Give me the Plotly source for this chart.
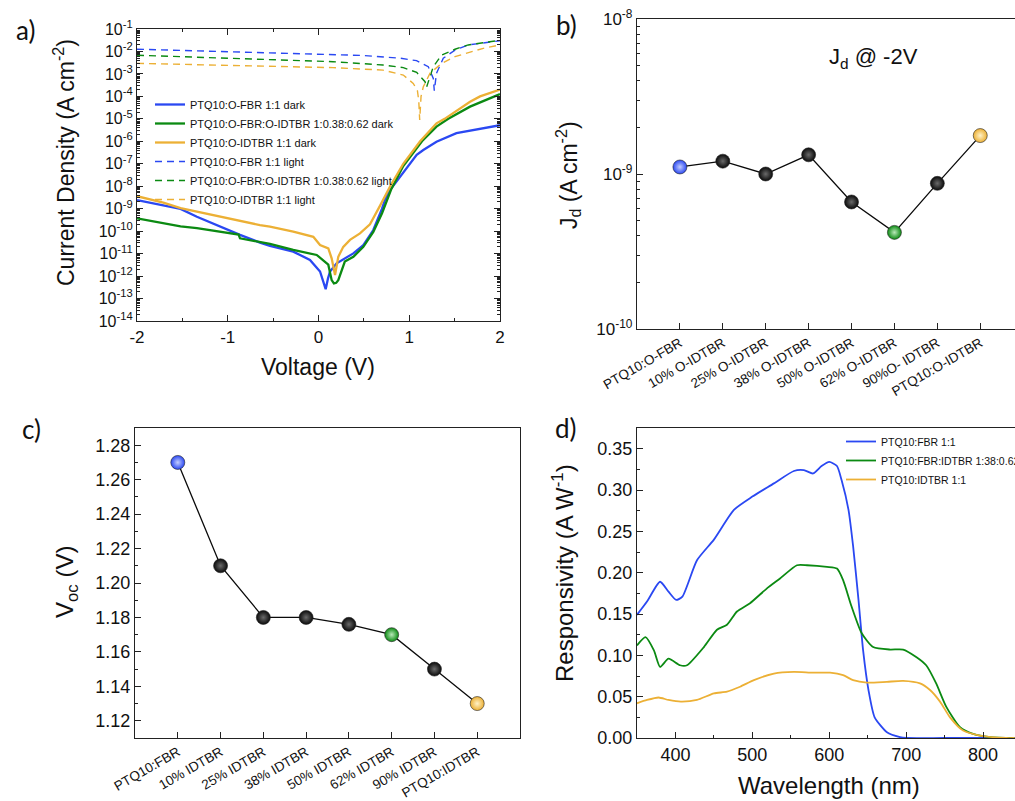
import plotly.graph_objects as go

# ---------------- data: panel a (J-V) ----------------
blue_dark_v = [-2.0, -1.71, -1.52, -1.34, -0.975, -0.865, -0.645, -0.535, -0.278, -0.094, 0.017, 0.05,
               0.079, 0.105, 0.127, 0.2, 0.3, 0.384, 0.494, 0.604, 0.7, 0.733, 0.788, 0.898, 1.008,
               1.082, 1.155, 1.3, 1.52, 1.74, 2.0]
blue_dark_j = [2.4e-9, 1.45e-9, 9.8e-10, 4.4e-10, 1.0e-10, 6.8e-11, 3.1e-11, 2.2e-11, 1.23e-11, 5.2e-12,
               1.6e-12, 6.3e-13, 2.6e-13, 7.9e-13, 1.6e-12, 3.7e-12, 6.3e-12, 1.02e-11, 2.4e-11, 1.12e-10,
               1.0e-9, 2.5e-9, 6.8e-9, 2.6e-8, 1.05e-7, 2.5e-7, 4.1e-7, 9.5e-7, 2.3e-6, 3.4e-6, 5.2e-6]

green_dark_v = [-2.0, -1.71, -1.52, -1.34, -0.975, -0.88, -0.865, -0.645, -0.535, -0.278, -0.02, 0.108,
                0.145, 0.17, 0.195, 0.218, 0.29, 0.384, 0.494, 0.604, 0.70, 0.80, 0.934, 1.14, 1.30,
                1.43, 1.67, 1.94, 2.0]
green_dark_j = [3.7e-10, 2.24e-10, 1.62e-10, 1.35e-10, 7.9e-11, 7.1e-11, 4.8e-11, 3.3e-11, 2.7e-11,
                1.48e-11, 8.7e-12, 3.2e-12, 6.6e-13, 4.7e-13, 5.0e-13, 6.6e-13, 4.4e-12, 7.2e-12, 2.0e-11,
                9.3e-11, 6.3e-10, 7.1e-9, 7.9e-8, 1.0e-6, 4.5e-6, 1.0e-5, 3.5e-5, 1.0e-4, 1.26e-4]

orange_dark_v = [-2.0, -1.71, -1.52, -1.34, -0.975, -0.645, -0.535, -0.278, -0.057, 0.017, 0.108, 0.145,
                 0.182, 0.218, 0.273, 0.347, 0.457, 0.567, 0.68, 0.79, 0.934, 1.12, 1.30, 1.39, 1.67,
                 1.78, 2.0]
orange_dark_j = [3.6e-9, 1.86e-9, 1.07e-9, 7.4e-10, 3.7e-10, 1.86e-10, 1.58e-10, 9.5e-11, 5.6e-11, 2.4e-11,
                 1.7e-11, 6.2e-12, 1.12e-12, 7.2e-12, 2.0e-11, 4.1e-11, 7.9e-11, 2.0e-10, 1.41e-9, 1.0e-8,
                 1.0e-7, 1.0e-6, 6.3e-6, 1.0e-5, 5.8e-5, 1.0e-4, 2.0e-4]

blue_light_v = [-2.0, -1.0, 0.0, 0.5, 0.9, 1.08, 1.21, 1.265, 1.276, 1.30, 1.375, 1.504, 1.65, 1.816, 2.0]
blue_light_j = [1.26e-2, 1.0e-2, 7.9e-3, 6.6e-3, 5.0e-3, 3.9e-3, 2.1e-3, 6.3e-4, 1.78e-4, 1.07e-3, 5.0e-3,
                1.15e-2, 1.95e-2, 2.45e-2, 3.0e-2]

green_light_v = [-2.0, -0.94, 0.16, 0.71, 0.934, 1.082, 1.174, 1.19, 1.22, 1.265, 1.357, 1.504, 1.65, 1.816, 2.0]
green_light_j = [6.8e-3, 5.0e-3, 3.5e-3, 2.5e-3, 1.9e-3, 1.17e-3, 4.5e-4, 2.5e-4, 5.4e-4, 2.1e-3, 6.9e-3,
                 1.26e-2, 1.95e-2, 2.5e-2, 3.16e-2]

orange_light_v = [-2.0, -0.94, 0.16, 0.71, 0.934, 1.044, 1.09, 1.105, 1.115, 1.13, 1.155, 1.229, 1.357,
                  1.504, 1.65, 1.816, 2.0]
orange_light_j = [2.95e-3, 2.34e-3, 1.9e-3, 1.48e-3, 8.9e-4, 3.8e-4, 1.78e-4, 6.3e-5, 8.9e-6, 1.0e-4,
                  2.7e-4, 1.07e-3, 2.95e-3, 5.9e-3, 9.1e-3, 1.38e-2, 1.95e-2]

# ---------------- data: panels b, c ----------------
cats_b = ["PTQ10:O-FBR", "10% O-IDTBR", "25% O-IDTBR", "38% O-IDTBR", "50% O-IDTBR",
          "62% O-IDTBR", "90%O- IDTBR", "PTQ10:O-IDTBR"]
jd_values = [1.11e-9, 1.21e-9, 1.0e-9, 1.33e-9, 6.6e-10, 4.2e-10, 8.7e-10, 1.77e-9]

cats_c = ["PTQ10:FBR", "10% IDTBR", "25% IDTBR", "38% IDTBR", "50% IDTBR",
          "62% IDTBR", "90% IDTBR", "PTQ10:IDTBR"]
voc_values = [1.27, 1.21, 1.18, 1.18, 1.176, 1.17, 1.15, 1.13]

# ---------------- data: panel d (responsivity) ----------------
wl_blue = [350, 363, 380, 391, 401, 409, 428, 450, 476, 500, 528, 554, 567, 579, 590, 600, 610, 616,
           625, 631, 638, 644, 651, 659, 675, 692, 700, 750, 841]
resp_blue = [0.149, 0.165, 0.189, 0.177, 0.167, 0.171, 0.215, 0.24, 0.276, 0.292, 0.308, 0.323, 0.324,
             0.32, 0.329, 0.334, 0.329, 0.312, 0.276, 0.232, 0.167, 0.106, 0.058, 0.025, 0.007, 0.001,
             0.0, 0.0, 0.0]
wl_green = [350, 361, 372, 380, 391, 406, 415, 437, 454, 467, 480, 497, 519, 536, 558, 571, 597, 610,
            618, 629, 642, 657, 679, 696, 713, 726, 739, 752, 770, 787, 809, 841]
resp_green = [0.112, 0.122, 0.106, 0.086, 0.096, 0.088, 0.088, 0.11, 0.131, 0.137, 0.153, 0.163, 0.181,
              0.193, 0.209, 0.209, 0.207, 0.205, 0.191, 0.159, 0.127, 0.110, 0.107, 0.107, 0.098, 0.088,
              0.066, 0.038, 0.013, 0.005, 0.001, 0.0]
wl_orange = [350, 363, 378, 391, 407, 428, 450, 467, 484, 502, 528, 554, 579, 601, 618, 631, 649, 675,
             696, 718, 731, 744, 757, 774, 796, 830, 841]
resp_orange = [0.042, 0.046, 0.049, 0.046, 0.044, 0.046, 0.054, 0.056, 0.062, 0.07, 0.078, 0.08, 0.079,
               0.079, 0.076, 0.07, 0.067, 0.068, 0.069, 0.066, 0.058, 0.044, 0.025, 0.009, 0.003, 0.0, 0.0]

log_major = [10.0 ** k for k in range(-14, 0)]
log_major_text = ["10<sup>%d</sup>" % k for k in range(-14, 0)]

# ---------------- style ----------------
W, H = 1015, 801
BLUE, GREEN, ORANGE, BLACK = "#2a48f2", "#0b8a12", "#ecb035", "#0a0a0a"
FONT = "Liberation Sans, Arial, sans-serif"
LETTER_FONT = "Lato, Carlito, sans-serif"
AX = "#222222"


def px(x):
    return x / W


def py(y):
    return 1 - y / H


def minor_log(lo, hi):
    return [m * 10.0 ** k for k in range(lo, hi) for m in range(2, 10)]


fig = go.Figure()

dark_w = 2.3
light_dash = "7px,5px"
fig.add_trace(go.Scatter(x=blue_dark_v, y=blue_dark_j, mode="lines", name="PTQ10:O-FBR 1:1 dark",
                         line=dict(color=BLUE, width=dark_w), xaxis="x", yaxis="y", legend="legend"))
fig.add_trace(go.Scatter(x=green_dark_v, y=green_dark_j, mode="lines", name="PTQ10:O-FBR:O-IDTBR 1:0.38:0.62 dark",
                         line=dict(color=GREEN, width=dark_w), xaxis="x", yaxis="y", legend="legend"))
fig.add_trace(go.Scatter(x=orange_dark_v, y=orange_dark_j, mode="lines", name="PTQ10:O-IDTBR 1:1 dark",
                         line=dict(color=ORANGE, width=dark_w), xaxis="x", yaxis="y", legend="legend"))
fig.add_trace(go.Scatter(x=blue_light_v, y=blue_light_j, mode="lines", name="PTQ10:O-FBR 1:1 light",
                         line=dict(color=BLUE, width=1.4, dash=light_dash), xaxis="x", yaxis="y", legend="legend"))
fig.add_trace(go.Scatter(x=green_light_v, y=green_light_j, mode="lines", name="PTQ10:O-FBR:O-IDTBR 1:0.38:0.62 light",
                         line=dict(color=GREEN, width=1.4, dash=light_dash), xaxis="x", yaxis="y", legend="legend"))
fig.add_trace(go.Scatter(x=orange_light_v, y=orange_light_j, mode="lines", name="PTQ10:O-IDTBR 1:1 light",
                         line=dict(color=ORANGE, width=1.4, dash=light_dash), xaxis="x", yaxis="y", legend="legend"))

pt_colors = [BLUE, BLACK, BLACK, BLACK, BLACK, GREEN, BLACK, ORANGE]
pt_glow = ["#c4ceff", "#6a6a6a", "#6a6a6a", "#6a6a6a", "#6a6a6a", "#b8e8b8", "#6a6a6a", "#fff2c8"]
marker = dict(size=14, color=pt_colors, line=dict(width=0.6, color="#222222"),
              gradient=dict(type="radial", color=pt_glow))

fig.add_trace(go.Scatter(x=list(range(1, len(cats_b) + 1)), y=jd_values, mode="lines+markers",
                         line=dict(color=BLACK, width=1.3), marker=marker, showlegend=False,
                         xaxis="x2", yaxis="y2"))
fig.add_trace(go.Scatter(x=list(range(1, len(cats_c) + 1)), y=voc_values, mode="lines+markers",
                         line=dict(color=BLACK, width=1.3), marker=marker, showlegend=False,
                         xaxis="x3", yaxis="y3"))

fig.add_trace(go.Scatter(x=wl_blue, y=resp_blue, mode="lines", name="PTQ10:FBR 1:1",
                         line=dict(color=BLUE, width=1.8, shape="spline", smoothing=0.6),
                         xaxis="x4", yaxis="y4", legend="legend2"))
fig.add_trace(go.Scatter(x=wl_green, y=resp_green, mode="lines", name="PTQ10:FBR:IDTBR 1:38:0.62",
                         line=dict(color=GREEN, width=1.8, shape="spline", smoothing=0.6),
                         xaxis="x4", yaxis="y4", legend="legend2"))
fig.add_trace(go.Scatter(x=wl_orange, y=resp_orange, mode="lines", name="PTQ10:IDTBR 1:1",
                         line=dict(color=ORANGE, width=1.8, shape="spline", smoothing=0.6),
                         xaxis="x4", yaxis="y4", legend="legend2"))

common = dict(showgrid=False, zeroline=False, showline=True, linecolor=AX, linewidth=1.3,
              automargin=False,
              ticks="inside", ticklen=6, tickwidth=1.1, tickcolor=AX,
              tickfont=dict(family=FONT, size=16, color="#111"))

CAT = 13.5

fig.update_layout(
    template="none",
    width=W, height=H, autosize=False,
    margin=dict(l=0, r=0, t=0, b=0, pad=0, autoexpand=False),
    paper_bgcolor="white", plot_bgcolor="white",
    font=dict(family=FONT, color="#111", size=12),
    # panel a
    xaxis=dict(common, domain=[px(137), px(500)], range=[-2, 2], anchor="y",
               tickvals=[-2, -1, 0, 1, 2], ticktext=["-2", "-1", "0", "1", "2"],
               mirror="allticks", tickfont=dict(family=FONT, size=17, color="#111"),
               minor=dict(ticks="inside", ticklen=3, tickvals=[-1.5, -0.5, 0.5, 1.5], tickcolor=AX)),
    yaxis=dict(common, domain=[py(321), py(29)], type="log", range=[-14, -1], anchor="x",
               tickvals=log_major, ticktext=log_major_text, mirror="allticks",
               minor=dict(ticks="inside", ticklen=3, tickvals=minor_log(-14, -1), tickcolor=AX)),
    # panel b
    xaxis2=dict(common, domain=[px(637), 1.0], range=[0, 8.81], anchor="y2",
                tickvals=list(range(1, len(cats_b) + 1)), ticktext=cats_b, tickangle=-30,
                mirror=True, tickfont=dict(family=FONT, size=CAT, color="#111")),
    yaxis2=dict(common, domain=[py(329), py(19)], type="log", range=[-10, -8], anchor="x2",
                tickvals=[1e-10, 1e-9, 1e-8], ticktext=["10<sup>-10</sup>", "10<sup>-9</sup>", "10<sup>-8</sup>"],
                tickfont=dict(family=FONT, size=17, color="#111"),
                minor=dict(ticks="inside", ticklen=3, tickvals=minor_log(-10, -8), tickcolor=AX)),
    # panel c
    xaxis3=dict(common, domain=[px(135), px(520)], range=[0, 9], anchor="y3",
                tickvals=list(range(1, len(cats_c) + 1)), ticktext=cats_c, tickangle=-30,
                mirror=True, tickfont=dict(family=FONT, size=CAT, color="#111")),
    yaxis3=dict(common, domain=[py(738), py(428)], range=[1.11, 1.29], anchor="x3",
                tick0=1.12, dtick=0.02, tickformat=".2f", mirror=True,
                tickfont=dict(family=FONT, size=18, color="#111"),
                minor=dict(ticks="inside", ticklen=3, dtick=0.01, tickcolor=AX)),
    # panel d
    xaxis4=dict(common, domain=[px(637), 1.0], range=[350, 841.5], anchor="y4",
                tick0=400, dtick=100, mirror=True,
                tickfont=dict(family=FONT, size=18, color="#111"),
                minor=dict(ticks="inside", ticklen=3, dtick=50, tickcolor=AX)),
    yaxis4=dict(common, domain=[py(738), py(428)], range=[0, 0.375], anchor="x4",
                tick0=0, dtick=0.05, tickformat=".2f",
                tickfont=dict(family=FONT, size=18, color="#111"),
                minor=dict(ticks="inside", ticklen=3, dtick=0.025, tickcolor=AX)),
    legend=dict(x=px(150), y=py(90), xanchor="left", yanchor="top", bgcolor="rgba(0,0,0,0)",
                font=dict(family=FONT, size=11, color="#111"), itemwidth=30, tracegroupgap=0),
    legend2=dict(x=px(841), y=py(427), xanchor="left", yanchor="top", bgcolor="rgba(0,0,0,0)",
                 font=dict(family=FONT, size=10.5, color="#111"), itemwidth=30, tracegroupgap=0),
)

ann = []


def label(text, x, y, size, angle=0, family=FONT):
    ann.append(dict(text=text, x=px(x), y=py(y), xref="paper", yref="paper", showarrow=False,
                    xanchor="center", yanchor="middle", textangle=angle,
                    font=dict(family=family, size=size, color="#111")))


label("Current Density (A cm<sup>-2</sup>)", 64, 162, 23, -90)
label("Voltage (V)", 318, 367, 23)
label("J<sub>d</sub> (A cm<sup>-2</sup>)", 568, 175, 23, -90)
label("J<sub>d</sub> @ -2V", 873, 58, 22)
label("V<sub>oc</sub> (V)", 66, 582, 24, -90)
label("Responsivity (A W<sup>-1</sup>)", 563, 573, 24, -90)
label("Wavelength (nm)", 829, 785, 24)
label("a)", 25, 30, 26, family=LETTER_FONT)
label("b)", 566, 25, 26, family=LETTER_FONT)
label("c)", 32, 429, 26, family=LETTER_FONT)
label("d)", 566, 428, 26, family=LETTER_FONT)
fig.update_layout(annotations=ann)

page_fix = (
    "document.documentElement.style.margin='0';"
    "document.documentElement.style.overflow='hidden';"
    "document.body.style.margin='0';"
    "document.body.style.overflow='hidden';"
    "var gd=document.getElementById('{plot_id}');"
    "gd.style.overflow='hidden';"
)
fig.write_html("out.html", post_script=page_fix, config={"displayModeBar": False})
